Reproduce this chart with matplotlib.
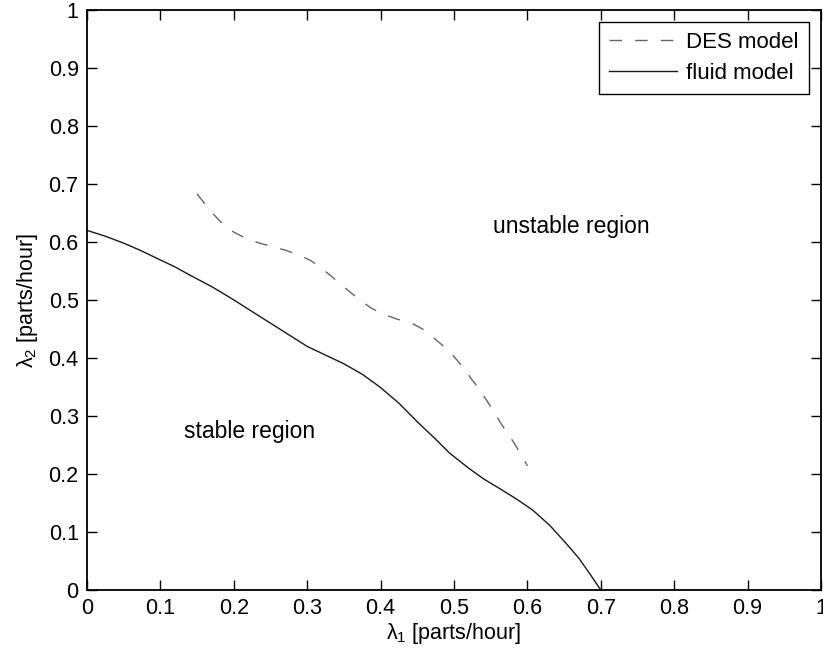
import matplotlib
matplotlib.use("Agg")
import matplotlib.pyplot as plt

# data
fluid_x = [0.0, 0.025, 0.05, 0.072, 0.10, 0.12, 0.14, 0.17, 0.199, 0.225, 0.25, 0.275,
           0.30, 0.325, 0.35, 0.375, 0.399, 0.425, 0.45, 0.475, 0.494, 0.52, 0.541,
           0.562, 0.585, 0.607, 0.63, 0.653, 0.67, 0.685, 0.70]
fluid_y = [0.62, 0.61, 0.598, 0.586, 0.569, 0.557, 0.543, 0.523, 0.501, 0.48, 0.46, 0.44,
           0.42, 0.405, 0.39, 0.372, 0.350, 0.322, 0.29, 0.26, 0.236, 0.21, 0.191,
           0.175, 0.157, 0.138, 0.112, 0.080, 0.055, 0.028, 0.0]

des_x = [0.150, 0.167, 0.185, 0.200, 0.217, 0.235, 0.253, 0.270, 0.288, 0.305, 0.319,
         0.332, 0.344, 0.358, 0.372, 0.386, 0.399, 0.420, 0.444, 0.460, 0.473, 0.488,
         0.501, 0.513, 0.523, 0.534, 0.544, 0.554, 0.564, 0.575, 0.585, 0.593, 0.600]
des_y = [0.683, 0.655, 0.631, 0.617, 0.606, 0.598, 0.592, 0.586, 0.578, 0.568, 0.555,
         0.542, 0.529, 0.514, 0.500, 0.487, 0.478, 0.468, 0.459, 0.448, 0.434, 0.418,
         0.401, 0.383, 0.365, 0.347, 0.328, 0.308, 0.287, 0.267, 0.247, 0.230, 0.214]

ticks = [0, 0.1, 0.2, 0.3, 0.4, 0.5, 0.6, 0.7, 0.8, 0.9, 1]
tick_labels = ["0", "0.1", "0.2", "0.3", "0.4", "0.5", "0.6", "0.7", "0.8", "0.9", "1"]

plt.rcParams['font.family'] = ['Liberation Sans', 'DejaVu Sans']
plt.rcParams['mathtext.fontset'] = 'custom'
plt.rcParams['mathtext.rm'] = 'Liberation Sans'
plt.rcParams['mathtext.it'] = 'Liberation Sans'
plt.rcParams['mathtext.default'] = 'regular'

fs = 15.5
fig = plt.figure(figsize=(8.23, 6.54), dpi=100)
ax = fig.add_axes([87/823, 64/654, (821-87)/823, (590-10)/654])

ax.plot(des_x, des_y, color='#666666', lw=1.0, dashes=(9, 9.5), label='DES model')
ax.plot(fluid_x, fluid_y, color='#1a1a1a', lw=1.0, label='fluid model')

ax.set_xlim(0, 1)
ax.set_ylim(0, 1)
ax.set_xticks(ticks)
ax.set_xticklabels(tick_labels)
ax.set_yticks(ticks)
ax.set_yticklabels(tick_labels)
ax.tick_params(direction='in', length=7, width=1.0, top=True, right=True,
               labelsize=fs, pad=6)
for s in ax.spines.values():
    s.set_linewidth(1.3)

ax.set_xlabel(r'$\lambda_1$ [parts/hour]', fontsize=fs, labelpad=1)
ax.set_ylabel(r'$\lambda_2$ [parts/hour]', fontsize=fs, labelpad=6)

ax.text(0.66, 0.626, 'unstable region', fontsize=16.5, ha='center', va='center')
ax.text(0.222, 0.273, 'stable region', fontsize=16.5, ha='center', va='center')

leg = ax.legend(loc='upper right', fontsize=16, frameon=True, fancybox=False,
                edgecolor='black', framealpha=1, handlelength=3.1,
                borderaxespad=0.55, handletextpad=0.4, labelspacing=0.45,
                borderpad=0.45)
leg.get_frame().set_linewidth(1.0)

fig.savefig('out.png', dpi=100)
